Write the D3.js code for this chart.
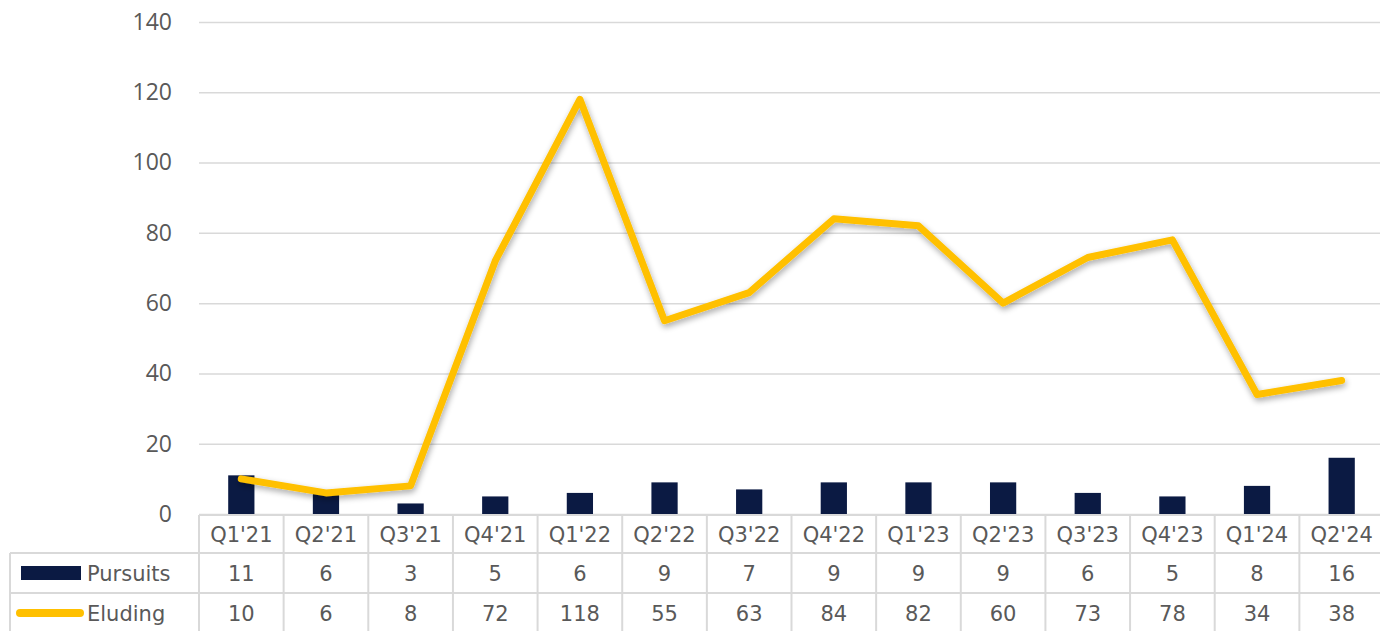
<!DOCTYPE html>
<html>
<head>
<meta charset="utf-8">
<script src="https://cdn.jsdelivr.net/npm/d3@7"></script>
<style>
  body { margin: 0; background: #fff; }
  svg { display: block; }
  .ylab text { font-family: "Open Sans", sans-serif; font-size: 23px; fill: #595959; }
  .tbl text { font-family: "DejaVu Sans", sans-serif; font-size: 21px; fill: #595959; }
</style>
</head>
<body>
<svg id="chart" width="1380" height="631"></svg>
<script>
// ----- DATA -----
var quarters = ["Q1'21", "Q2'21", "Q3'21", "Q4'21", "Q1'22", "Q2'22", "Q3'22", "Q4'22", "Q1'23", "Q2'23", "Q3'23", "Q4'23", "Q1'24", "Q2'24"];
var pursuits = [11, 6, 3, 5, 6, 9, 7, 9, 9, 9, 6, 5, 8, 16];
var eluding = [10, 6, 8, 72, 118, 55, 63, 84, 82, 60, 73, 78, 34, 38];
var yTicks = [0, 20, 40, 60, 80, 100, 120, 140];

var navy = "#0b1a43";
var gold = "#ffc000";
var gridColor = "#d9d9d9";

var svg = d3.select("#chart");

var x = d3.scaleBand().domain(quarters).range([199, 1384]).paddingInner(0.69).paddingOuter(0.345);
var xc = d3.scaleBand().domain(quarters).range([199, 1384]);
var y = d3.scaleLinear().domain([0, 140]).range([514, 22]);

// ----- GRID + Y AXIS -----
var yAxis = svg.append("g")
    .attr("class", "ylab")
    .attr("transform", "translate(199,0)")
    .call(d3.axisLeft(y).tickValues(yTicks).tickSize(-1185).tickPadding(27));
yAxis.select(".domain").remove();
yAxis.selectAll(".tick line").attr("stroke", gridColor).attr("stroke-width", 1.5);

// shadow for line
var defs = svg.append("defs");
var f = defs.append("filter").attr("id", "shadow").attr("x", "-10%").attr("y", "-10%").attr("width", "120%").attr("height", "130%");
f.append("feGaussianBlur").attr("in", "SourceAlpha").attr("stdDeviation", 3);
f.append("feOffset").attr("dx", 1).attr("dy", 3).attr("result", "b");
f.append("feComponentTransfer").append("feFuncA").attr("type", "linear").attr("slope", 0.35);
var m = f.append("feMerge");
m.append("feMergeNode");
m.append("feMergeNode").attr("in", "SourceGraphic");

// ----- BARS -----
svg.append("g").selectAll("rect")
    .data(pursuits)
    .join("rect")
    .attr("x", function(d, i) { return x(quarters[i]); })
    .attr("y", function(d) { return y(d); })
    .attr("width", x.bandwidth())
    .attr("height", function(d) { return y(0) - y(d); })
    .attr("fill", navy);

// ----- LINE -----
var line = d3.line()
    .x(function(d, i) { return xc(quarters[i]) + xc.bandwidth() / 2; })
    .y(function(d) { return y(d); });

svg.append("path")
    .datum(eluding)
    .attr("d", line)
    .attr("fill", "none")
    .attr("stroke", gold)
    .attr("stroke-width", 7)
    .attr("stroke-linecap", "round")
    .attr("stroke-linejoin", "round")
    .attr("filter", "url(#shadow)");

// ----- DATA TABLE -----
var tbl = svg.append("g").attr("class", "tbl");
var rowTop = 515, rowH = [38, 40, 40];
var rowY = [rowTop, rowTop + rowH[0], rowTop + rowH[0] + rowH[1], rowTop + rowH[0] + rowH[1] + rowH[2]];
var left = 10, colL = 199, right = 1384;
var lc = "#d9d9d9";

function hline(yy, x1, x2) {
    tbl.append("line").attr("x1", x1).attr("x2", x2).attr("y1", yy).attr("y2", yy).attr("stroke", lc).attr("stroke-width", 2);
}
function vline(xx, y1, y2) {
    tbl.append("line").attr("x1", xx).attr("x2", xx).attr("y1", y1).attr("y2", y2).attr("stroke", lc).attr("stroke-width", 2);
}
hline(rowY[0], colL, right);
hline(rowY[1], left, right);
hline(rowY[2], left, right);
hline(rowY[3], left, right);
vline(left, rowY[1], rowY[3]);
quarters.forEach(function(q) { vline(xc(q), rowY[0], rowY[3]); });
vline(right, rowY[0], rowY[3]);

// header
tbl.selectAll(".hdr").data(quarters).join("text")
    .attr("class", "hdr")
    .attr("x", function(d) { return xc(d) + xc.bandwidth() / 2; })
    .attr("y", rowY[0] + rowH[0] / 2)
    .attr("dy", "0.36em")
    .attr("text-anchor", "middle")
    .text(function(d) { return d; });

var rows = [
    { name: "Pursuits", vals: pursuits },
    { name: "Eluding", vals: eluding }
];
rows.forEach(function(r, ri) {
    var cy = rowY[ri + 1] + rowH[ri + 1] / 2;
    tbl.selectAll(".v" + ri).data(r.vals).join("text")
        .attr("x", function(d, i) { return xc(quarters[i]) + xc.bandwidth() / 2; })
        .attr("y", cy)
        .attr("dy", "0.36em")
        .attr("text-anchor", "middle")
        .text(function(d) { return d; });
    tbl.append("text")
        .attr("x", 87)
        .attr("y", cy)
        .attr("dy", "0.36em")
        .text(r.name);
});

// legend keys
tbl.append("rect").attr("x", 21).attr("y", rowY[1] + 13).attr("width", 60).attr("height", 14).attr("fill", navy);
tbl.append("line").attr("x1", 20).attr("x2", 80).attr("y1", rowY[2] + 20).attr("y2", rowY[2] + 20)
    .attr("stroke", gold).attr("stroke-width", 8).attr("stroke-linecap", "round");
</script>
</body>
</html>
